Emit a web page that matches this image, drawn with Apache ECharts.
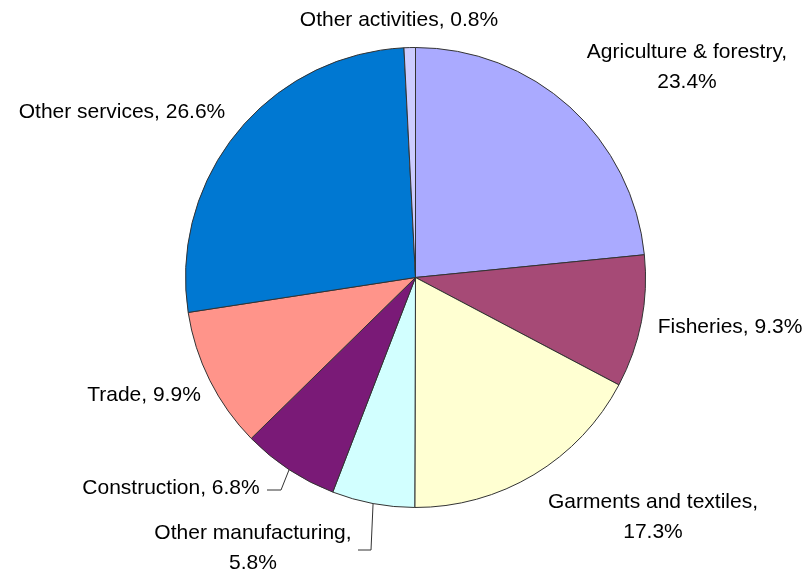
<!DOCTYPE html>
<html>
<head>
<meta charset="utf-8">
<script src="https://cdn.jsdelivr.net/npm/echarts@6/dist/echarts.min.js"></script>
<style>
  html, body { margin: 0; padding: 0; background: #ffffff; }
  #chart { width: 809px; height: 580px; }
</style>
</head>
<body>
<div id="chart"></div>
<script>
// Share of employment by sector (%)
const sectors = [
  'Agriculture & forestry',
  'Fisheries',
  'Garments and textiles',
  'Other manufacturing',
  'Construction',
  'Trade',
  'Other services',
  'Other activities'
];
const shares = [23.4, 9.3, 17.3, 5.8, 6.8, 9.9, 26.6, 0.8];
const sliceColors = ['#aaaaff', '#a64a76', '#ffffd2', '#d2ffff', '#7a1a77', '#ff948a', '#0078d2', '#ccccff'];

// Pie geometry
const CX = 415.5, CY = 277.5, R = 230;

// Where each label sits (block centre), whether it wraps after the comma,
// and the elbow / end of its leader line when it has one
const labelPlacement = [
  { x: 687, y: 67,  wrap: true },
  { x: 730, y: 327, wrap: false },
  { x: 653, y: 517, wrap: true },
  { x: 253, y: 548, wrap: true, leader: [[371, 550], [358, 550]] },
  { x: 171, y: 488, wrap: false, leader: [[281, 490], [267, 490]] },
  { x: 144, y: 395, wrap: false },
  { x: 122, y: 112, wrap: false },
  { x: 399, y: 20,  wrap: false }
];

const total = shares.reduce((a, b) => a + b, 0);

// point on the rim at the middle angle of slice i (clockwise from 12 o'clock)
function rimPoint(i) {
  let before = 0;
  for (let k = 0; k < i; k++) before += shares[k];
  const a = 2 * Math.PI * (before + shares[i] / 2) / total;
  return [CX + R * Math.sin(a), CY - R * Math.cos(a)];
}

const data = sectors.map((name, i) => ({
  name: name,
  value: shares[i],
  itemStyle: { color: sliceColors[i] },
  label: {
    formatter: name + (labelPlacement[i].wrap ? ',\n' : ', ') + shares[i].toFixed(1) + '%'
  },
  labelLine: { show: !!labelPlacement[i].leader }
}));

const chart = echarts.init(document.getElementById('chart'), null, { renderer: 'canvas' });
chart.setOption({
  animation: false,
  backgroundColor: '#ffffff',
  series: [{
    type: 'pie',
    center: [CX, CY],
    radius: R,
    startAngle: 90,
    clockwise: true,
    avoidLabelOverlap: false,
    silent: true,
    itemStyle: { borderColor: '#333333', borderWidth: 1 },
    label: {
      show: true,
      position: 'outside',
      color: '#000000',
      fontFamily: '"Liberation Sans", Arial, sans-serif',
      fontSize: 21,
      lineHeight: 30,
      align: 'center'
    },
    labelLine: {
      show: false,
      length: 10,
      length2: 10,
      smooth: false,
      lineStyle: { color: '#333333', width: 1 }
    },
    emphasis: { disabled: true },
    labelLayout: function (params) {
      const p = labelPlacement[params.dataIndex];
      const out = { x: p.x, y: p.y, align: 'center', verticalAlign: 'middle' };
      if (p.leader) {
        out.labelLinePoints = [rimPoint(params.dataIndex), p.leader[0], p.leader[1]];
      }
      return out;
    },
    data: data
  }]
});
</script>
</body>
</html>
